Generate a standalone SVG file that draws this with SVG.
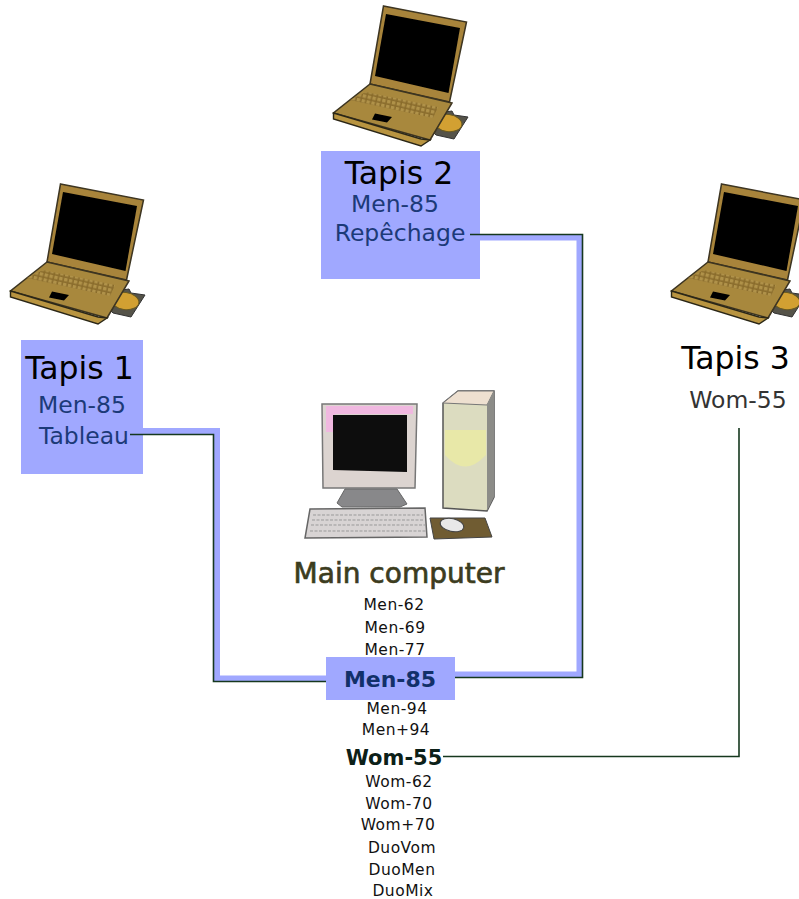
<svg xmlns="http://www.w3.org/2000/svg" xmlns:xlink="http://www.w3.org/1999/xlink" width="799" height="899" viewBox="0 0 799 899">
<style>
text{font-family:"DejaVu Sans","Liberation Sans",sans-serif;text-anchor:middle}
.title{font-size:31.500px;fill:#000}
.sub{font-size:23.500px;fill:#1c3a78}
.sub3{font-size:23.500px;fill:#333}
.item{font-size:15.500px;letter-spacing:.5px;fill:#111}
.main{font-size:28px;fill:#3c3c1e;stroke:#3c3c1e;stroke-width:.7px}
.hl{fill:#a0a8ff}
.halo{fill:none;stroke:#a0a8ff;stroke-width:6}
.wire{fill:none;stroke:#16381e;stroke-width:1.6}
</style>
<defs>
<filter id="soft" x="-5%" y="-5%" width="110%" height="110%"><feGaussianBlur stdDeviation="0.6"/></filter>
<pattern id="keys" width="5" height="5" patternUnits="userSpaceOnUse" patternTransform="rotate(13)"><rect width="5" height="5" fill="#8a6c2c"/><rect width="3.400" height="3.400" fill="#b0924a"/></pattern>
<g id="laptop" filter="url(#soft)">
<path d="M437 113 L452 111 L454 115 L468 117 L454 139 L436 135 L434 133Z" fill="#55524a" stroke="#333"/>
<ellipse cx="448" cy="123" rx="14" ry="8.500" transform="rotate(8 448 123)" fill="#d2a032" stroke="#6a5a20"/>
<path d="M383.500 6 L466.500 22 L449.500 102 L370 84Z" fill="#a8843a" stroke="#3c3420" stroke-width="1.500"/>
<path d="M386 14 L460 28 L448.500 93 L375 76Z" fill="#000"/>
<path d="M370 84 L452 103 L430 140 L333.500 113Z" fill="#a8883e" stroke="#3c3420" stroke-width="1.500"/>
<path d="M333.500 113 L333.500 119 L421 146 L430 140 L421 139Z" fill="#b89440" stroke="#2c2818" stroke-width="1.400"/>
<path d="M366 92 L438 107 L433 118 L350 100Z" fill="url(#keys)"/>
<path d="M375 113.500 L392 117 L387 122.500 L372 119.500Z" fill="#000"/>
</g>
</defs>
<rect id="bg" width="799" height="899" fill="#fff"/>
<g id="tapis1">
<use xlink:href="#laptop" href="#laptop" transform="translate(-323 178)"/>
<rect class="hl" x="21" y="340" width="122" height="134"/>
<text class="title" x="79.500" y="379">Tapis 1</text>
<text class="sub" x="82" y="413">Men-85</text>
<text class="sub" x="84" y="444">Tableau</text>
</g>
<g id="tapis2">
<use xlink:href="#laptop" href="#laptop"/>
<rect class="hl" x="321" y="151" width="159" height="128"/>
<text class="title" x="399" y="184">Tapis 2</text>
<text class="sub" x="395" y="212">Men-85</text>
<text class="sub" x="400" y="241">Repêchage</text>
</g>
<g id="tapis3">
<use xlink:href="#laptop" href="#laptop" transform="translate(338 178)"/>
<text class="title" x="735.500" y="369">Tapis 3</text>
<text class="sub3" x="738" y="408">Wom-55</text>
</g>
<g id="connectors">
<path class="halo" d="M143 431 H217 V678.500 H326"/>
<path class="wire" d="M130 434.500 H213.500 V681.500 H326"/>
<path class="halo" d="M480 237.500 H579.500 V674.500 H455"/>
<path class="wire" d="M470 234.500 H582.500 V677.500 H455"/>
<path class="wire" d="M443 756.500 H739 V428"/>
</g>
<g id="main-computer">
<g filter="url(#soft)">
<path d="M443 403 L458 391 L494 391 L494 497 L487 511 L443 508Z" fill="#dcdcc0" stroke="#555" stroke-width="1.500"/>
<path d="M443 403 L458 391 L494 391 L487 405Z" fill="#eee0d0" stroke="#777"/>
<path d="M487 405 L494 391 L494 497 L487 511Z" fill="#8c8c88"/>
<path d="M445 455 Q465 478 486 455 L486 430 L445 430Z" fill="#e8e8a8"/>
<path d="M322 404 H417 L415 488 H323Z" fill="#dcd4d0" stroke="#777" stroke-width="1.500"/>
<path d="M326 406 H413 V414 H335 V432 H326Z" fill="#f0b8e0"/>
<path d="M333 415 H407 V472 L333 470Z" fill="#0c0c0c"/>
<path d="M345 489 H397 L407 504 L400 507 H342 L337 503Z" fill="#88888a" stroke="#666"/>
<path d="M310 509 L425 508 L427 537 L305 538Z" fill="#d8d4d4" stroke="#666" stroke-width="1.500"/>
<path d="M313 515 H423 M312 520 H424 M311 525 H425 M310 531 H426" stroke="#999" stroke-dasharray="3 1.500" fill="none"/>
<path d="M430 518 L485 518 L492 537 L434 539Z" fill="#705c30" stroke="#444"/>
<ellipse cx="452" cy="525" rx="12" ry="6.500" transform="rotate(12 452 525)" fill="#e8e8e8" stroke="#444"/>
</g>
<text class="main" x="399" y="583">Main computer</text>
</g>
<g id="men-85">
<rect class="hl" x="326" y="657" width="129" height="43"/>
<text x="390" y="687" font-size="22" font-weight="700" fill="#12306a">Men-85</text>
</g>
<g id="events">
<text class="item" x="394" y="610">Men-62</text>
<text class="item" x="395" y="633">Men-69</text>
<text class="item" x="395" y="655">Men-77</text>
<text class="item" x="397" y="714">Men-94</text>
<text class="item" x="396" y="735">Men+94</text>
<text x="394" y="765" font-size="21" font-weight="700" fill="#0c2018">Wom-55</text>
<text class="item" x="399" y="787">Wom-62</text>
<text class="item" x="399" y="809">Wom-70</text>
<text class="item" x="398" y="830">Wom+70</text>
<text class="item" x="402" y="853">DuoVom</text>
<text class="item" x="402" y="875">DuoMen</text>
<text class="item" x="403" y="896">DuoMix</text>
</g>
</svg>
